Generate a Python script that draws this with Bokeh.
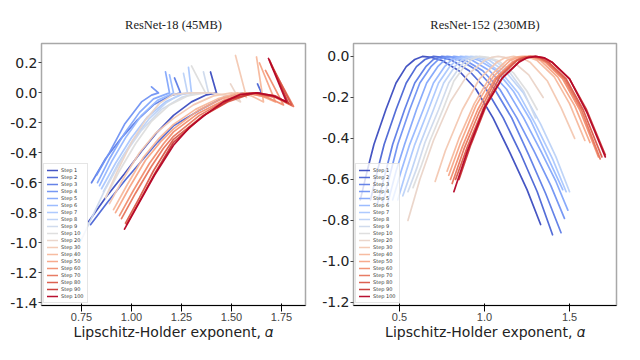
from bokeh.plotting import figure
from bokeh.layouts import row
from bokeh.models import FixedTicker, NumeralTickFormatter, Legend, LegendItem, Range1d, LinearAxis
from bokeh.embed import file_html
from bokeh.resources import INLINE

step_labels = ["Step 1", "Step 2", "Step 3", "Step 4", "Step 5", "Step 6", "Step 7",
               "Step 8", "Step 9", "Step 10", "Step 20", "Step 30", "Step 40",
               "Step 50", "Step 60", "Step 70", "Step 80", "Step 90", "Step 100"]
step_colors = ["#3b4cc0", "#4b65d5", "#5d7ce6", "#7092f3", "#83a6fb", "#97b8ff",
               "#aac7fe", "#bcd2f7", "#ced9ec", "#dddddd", "#ead4c8", "#f3c8b2",
               "#f7b89c", "#f7a586", "#f18e70", "#e7755c", "#da5948", "#c93936",
               "#b40426"]

# ---- ResNet-18 (alpha, f) points per step ----
r18_step1 = [(0.785, -0.86), (0.87, -0.70), (0.965, -0.54), (1.05, -0.39), (1.13, -0.26), (1.21, -0.15), (1.30, -0.06), (1.37, -0.015), (1.425, 0.0), (1.395, 0.14)]
r18_step2 = [(0.795, -0.88), (0.88, -0.73), (0.97, -0.58), (1.06, -0.44), (1.13, -0.33), (1.21, -0.22), (1.335, -0.12), (1.46, -0.03), (1.56, 0.0), (1.65, 0.0), (1.63, 0.06)]
r18_step3 = [(0.80, -0.60), (0.87, -0.44), (0.95, -0.30), (1.03, -0.18), (1.11, -0.08), (1.19, -0.02), (1.245, 0.0), (1.215, 0.10)]
r18_step4 = [(0.825, -0.55), (0.885, -0.41), (0.965, -0.21), (1.05, -0.06), (1.10, -0.015), (1.135, 0.0), (1.10, 0.04)]
r18_step5 = [(0.83, -0.60), (0.89, -0.44), (0.96, -0.28), (1.04, -0.13), (1.11, -0.04), (1.19, 0.0), (1.17, 0.14)]
r18_step6 = [(0.84, -0.62), (0.90, -0.46), (0.97, -0.30), (1.05, -0.15), (1.13, -0.05), (1.21, 0.0), (1.19, 0.12)]
r18_step7 = [(0.85, -0.64), (0.92, -0.47), (1.00, -0.30), (1.08, -0.16), (1.17, -0.06), (1.25, -0.01), (1.30, 0.0), (1.285, 0.17)]
r18_step8 = [(0.86, -0.66), (0.93, -0.48), (1.01, -0.31), (1.09, -0.17), (1.17, -0.07), (1.24, -0.01), (1.28, 0.0), (1.26, 0.13)]
r18_step9 = [(0.62, -1.34), (0.70, -1.12), (0.785, -0.88), (0.87, -0.64), (0.96, -0.42), (1.05, -0.25), (1.15, -0.11), (1.25, -0.03), (1.33, 0.0), (1.385, 0.0), (1.36, 0.14)]
r18_step10 = [(0.87, -0.70), (0.94, -0.52), (1.02, -0.34), (1.10, -0.19), (1.19, -0.08), (1.28, -0.02), (1.37, 0.0), (1.30, 0.18)]
r18_step20 = [(0.87, -0.70), (0.93, -0.52), (1.00, -0.33), (1.07, -0.18), (1.14, -0.07), (1.21, -0.01), (1.30, 0.0), (1.40, 0.0), (1.49, -0.02), (1.545, -0.06), (1.495, 0.06)]
r18_step30 = [(0.89, -0.74), (0.96, -0.57), (1.04, -0.40), (1.12, -0.27), (1.21, -0.17), (1.31, -0.08), (1.41, -0.02), (1.50, 0.0), (1.56, -0.01), (1.575, -0.03), (1.52, 0.25)]
r18_step40 = [(0.91, -0.78), (0.98, -0.61), (1.06, -0.43), (1.14, -0.30), (1.21, -0.21), (1.32, -0.11), (1.43, -0.04), (1.53, 0.0), (1.60, -0.02), (1.66, -0.06), (1.625, 0.24)]
r18_step50 = [(0.92, -0.80), (0.99, -0.63), (1.07, -0.45), (1.15, -0.32), (1.21, -0.24), (1.33, -0.12), (1.45, -0.04), (1.56, 0.0), (1.65, -0.02), (1.72, -0.06), (1.64, 0.20)]
r18_step60 = [(0.94, -0.82), (1.01, -0.65), (1.09, -0.47), (1.16, -0.34), (1.21, -0.26), (1.33, -0.14), (1.46, -0.05), (1.58, 0.0), (1.68, -0.03), (1.76, -0.08), (1.67, 0.15)]
r18_step70 = [(0.95, -0.84), (1.02, -0.67), (1.10, -0.49), (1.16, -0.37), (1.21, -0.29), (1.34, -0.15), (1.47, -0.05), (1.60, 0.0), (1.72, -0.03), (1.81, -0.09), (1.70, 0.18)]
r18_step80 = [(0.97, -0.87), (1.04, -0.70), (1.11, -0.52), (1.17, -0.39), (1.21, -0.31), (1.35, -0.16), (1.48, -0.06), (1.61, 0.0), (1.73, -0.03), (1.80, -0.08), (1.695, 0.20)]
r18_step90 = [(0.975, -0.88), (1.05, -0.70), (1.12, -0.53), (1.21, -0.33), (1.36, -0.15), (1.50, -0.04), (1.62, 0.0), (1.72, -0.02), (1.785, -0.07), (1.69, 0.22)]
r18_step100 = [(0.965, -0.91), (1.04, -0.73), (1.115, -0.55), (1.21, -0.35), (1.29, -0.23), (1.375, -0.14), (1.46, -0.06), (1.545, -0.01), (1.63, 0.0), (1.71, -0.02), (1.775, -0.06), (1.685, 0.23)]

# ---- ResNet-152 (alpha, f) points per step ----
r152_step1 = [(0.27, -0.70), (0.31, -0.56), (0.35, -0.43), (0.42, -0.26), (0.48, -0.13), (0.54, -0.05), (0.59, -0.015), (0.635, 0.0), (0.69, -0.005), (0.75, -0.02), (0.85, -0.07), (0.95, -0.16), (1.05, -0.30), (1.15, -0.47), (1.25, -0.65), (1.33, -0.82)]
r152_step2 = [(0.33, -0.70), (0.37, -0.56), (0.41, -0.43), (0.48, -0.26), (0.54, -0.13), (0.60, -0.05), (0.65, -0.015), (0.70, 0.0), (0.755, -0.005), (0.81, -0.02), (0.91, -0.07), (1.01, -0.16), (1.11, -0.30), (1.21, -0.47), (1.31, -0.66), (1.40, -0.87)]
r152_step3 = [(0.37, -0.72), (0.42, -0.56), (0.46, -0.43), (0.53, -0.26), (0.59, -0.13), (0.655, -0.05), (0.70, -0.015), (0.75, 0.0), (0.805, -0.005), (0.86, -0.02), (0.96, -0.07), (1.06, -0.16), (1.16, -0.30), (1.26, -0.48), (1.36, -0.67), (1.45, -0.86)]
r152_step4 = [(0.40, -0.72), (0.45, -0.56), (0.49, -0.43), (0.56, -0.26), (0.62, -0.13), (0.685, -0.05), (0.73, -0.015), (0.78, 0.0), (0.835, -0.005), (0.89, -0.02), (0.99, -0.07), (1.09, -0.16), (1.19, -0.30), (1.29, -0.46), (1.39, -0.63), (1.47, -0.79)]
r152_step5 = [(0.43, -0.72), (0.48, -0.56), (0.53, -0.43), (0.60, -0.26), (0.66, -0.13), (0.725, -0.05), (0.77, -0.015), (0.82, 0.0), (0.875, -0.005), (0.93, -0.02), (1.03, -0.07), (1.13, -0.16), (1.23, -0.30), (1.33, -0.46), (1.42, -0.61), (1.49, -0.75)]
r152_step6 = [(0.46, -0.70), (0.51, -0.56), (0.56, -0.43), (0.64, -0.26), (0.70, -0.13), (0.765, -0.05), (0.81, -0.015), (0.86, 0.0), (0.915, -0.005), (0.97, -0.02), (1.07, -0.07), (1.17, -0.17), (1.27, -0.31), (1.36, -0.47), (1.46, -0.65)]
r152_step7 = [(0.49, -0.70), (0.54, -0.56), (0.59, -0.43), (0.67, -0.26), (0.73, -0.13), (0.795, -0.05), (0.84, -0.015), (0.89, 0.0), (0.945, -0.005), (1.00, -0.02), (1.10, -0.08), (1.20, -0.18), (1.30, -0.33), (1.40, -0.50), (1.48, -0.66)]
r152_step8 = [(0.52, -0.68), (0.57, -0.56), (0.62, -0.43), (0.70, -0.26), (0.76, -0.13), (0.825, -0.05), (0.87, -0.015), (0.92, 0.0), (0.975, -0.005), (1.03, -0.02), (1.13, -0.08), (1.23, -0.18), (1.33, -0.33), (1.42, -0.49), (1.50, -0.66)]
r152_step9 = [(0.55, -0.66), (0.60, -0.55), (0.65, -0.42), (0.73, -0.26), (0.79, -0.13), (0.855, -0.05), (0.90, -0.015), (0.95, 0.0), (1.005, -0.005), (1.06, -0.02), (1.15, -0.08), (1.23, -0.17), (1.30, -0.30)]
r152_step10 = [(0.58, -0.64), (0.63, -0.53), (0.68, -0.41), (0.76, -0.25), (0.82, -0.12), (0.88, -0.05), (0.925, -0.015), (0.97, 0.0), (1.025, -0.005), (1.08, -0.02), (1.17, -0.08), (1.25, -0.17), (1.31, -0.26)]
r152_step20 = [(0.55, -0.80), (0.62, -0.60), (0.70, -0.41), (0.80, -0.22), (0.90, -0.09), (1.00, -0.02), (1.04, -0.005), (1.08, 0.0), (1.12, -0.005), (1.16, -0.02), (1.26, -0.09), (1.345, -0.20)]
r152_step30 = [(0.71, -0.61), (0.77, -0.46), (0.87, -0.26), (0.97, -0.11), (1.07, -0.03), (1.12, -0.007), (1.17, 0.0), (1.22, -0.007), (1.27, -0.03), (1.37, -0.12), (1.45, -0.25), (1.53, -0.40)]
r152_step40 = [(0.78, -0.56), (0.85, -0.40), (0.94, -0.23), (1.04, -0.09), (1.13, -0.02), (1.175, -0.005), (1.22, 0.0), (1.265, -0.005), (1.31, -0.02), (1.41, -0.10), (1.50, -0.23), (1.59, -0.41)]
r152_step50 = [(0.79, -0.58), (0.86, -0.42), (0.95, -0.24), (1.05, -0.10), (1.15, -0.02), (1.195, -0.005), (1.24, 0.0), (1.285, -0.005), (1.33, -0.02), (1.43, -0.10), (1.53, -0.24), (1.62, -0.42)]
r152_step60 = [(0.80, -0.60), (0.87, -0.44), (0.96, -0.26), (1.06, -0.11), (1.16, -0.03), (1.21, -0.007), (1.26, 0.0), (1.31, -0.007), (1.36, -0.03), (1.46, -0.11), (1.56, -0.26), (1.67, -0.49)]
r152_step70 = [(0.81, -0.62), (0.88, -0.45), (0.97, -0.27), (1.07, -0.11), (1.17, -0.03), (1.22, -0.007), (1.27, 0.0), (1.32, -0.007), (1.37, -0.03), (1.47, -0.11), (1.57, -0.26), (1.68, -0.50)]
r152_step80 = [(0.83, -0.60), (0.90, -0.44), (0.99, -0.26), (1.09, -0.10), (1.19, -0.02), (1.235, -0.005), (1.28, 0.0), (1.33, -0.007), (1.38, -0.03), (1.48, -0.11), (1.58, -0.26), (1.69, -0.49)]
r152_step90 = [(0.85, -0.60), (0.92, -0.43), (1.01, -0.24), (1.11, -0.10), (1.21, -0.02), (1.255, -0.005), (1.30, 0.0), (1.35, -0.007), (1.40, -0.03), (1.50, -0.11), (1.60, -0.26), (1.71, -0.48)]
r152_step100 = [(0.82, -0.66), (0.90, -0.46), (1.00, -0.25), (1.10, -0.11), (1.20, -0.03), (1.25, -0.007), (1.30, 0.0), (1.35, -0.007), (1.40, -0.03), (1.50, -0.11), (1.60, -0.27), (1.71, -0.49)]

r18_curves = [r18_step1, r18_step2, r18_step3, r18_step4, r18_step5, r18_step6, r18_step7,
              r18_step8, r18_step9, r18_step10, r18_step20, r18_step30, r18_step40,
              r18_step50, r18_step60, r18_step70, r18_step80, r18_step90, r18_step100]
r152_curves = [r152_step1, r152_step2, r152_step3, r152_step4, r152_step5, r152_step6,
               r152_step7, r152_step8, r152_step9, r152_step10, r152_step20, r152_step30,
               r152_step40, r152_step50, r152_step60, r152_step70, r152_step80,
               r152_step90, r152_step100]

r18_xticks = [0.75, 1.0, 1.25, 1.5, 1.75]
r18_yticks = [0.2, 0.0, -0.2, -0.4, -0.6, -0.8, -1.0, -1.2, -1.4]
r152_xticks = [0.5, 1.0, 1.5]
r152_yticks = [0.0, -0.2, -0.4, -0.6, -0.8, -1.0, -1.2]

TICK_FONT = "DejaVu Sans"


def make_panel(title, curves, xr, yr, xticks, yticks, xfmt, fw, bl, br):
    p = figure(frame_width=fw, frame_height=262,
               x_range=Range1d(*xr), y_range=Range1d(*yr),
               output_backend="svg", toolbar_location=None,
               min_border_left=bl, min_border_right=br,
               min_border_top=43, min_border_bottom=38)
    # title drawn as the label of a bare axis above the frame
    tax = LinearAxis(ticker=FixedTicker(ticks=[]), axis_label=title,
                     axis_line_color=None, major_tick_line_color=None,
                     minor_tick_line_color=None, major_tick_out=0, major_tick_in=0,
                     major_label_text_font_size="0px", major_label_standoff=0,
                     axis_label_standoff=12,
                     axis_label_text_font="Liberation Serif",
                     axis_label_text_font_size="12.5px",
                     axis_label_text_font_style="normal",
                     axis_label_text_color="#222222")
    p.add_layout(tax, "above")
    p.grid.visible = False
    p.outline_line_color = "#a8a8a8"
    p.outline_line_width = 1.5
    p.background_fill_color = "white"
    p.border_fill_color = "white"

    for ax in (p.xaxis[0], p.yaxis[0]):
        ax.axis_line_color = None
        ax.major_tick_line_color = "#444444"
        ax.major_tick_out = 3
        ax.major_tick_in = 0
        ax.minor_tick_line_color = None
        ax.major_label_text_font = TICK_FONT
        ax.major_label_text_font_size = "14px"
        ax.major_label_text_color = "#222222"
    bottom = p.below[0]
    bottom.major_label_standoff = 1
    p.yaxis.major_label_standoff = 1
    bottom.ticker = FixedTicker(ticks=xticks)
    p.yaxis.ticker = FixedTicker(ticks=yticks)
    bottom.formatter = NumeralTickFormatter(format=xfmt)
    p.yaxis.formatter = NumeralTickFormatter(format="0.0")
    bottom.axis_label = "Lipschitz-Holder exponent, \U0001D6FC"
    bottom.axis_label_text_font = TICK_FONT
    bottom.axis_label_text_font_size = "14px"
    bottom.axis_label_text_font_style = "normal"
    bottom.axis_label_text_color = "#222222"
    bottom.axis_label_standoff = 0

    items = []
    for label, color, pts in zip(step_labels, step_colors, curves):
        xs = [a for a, f in pts]
        ys = [f for a, f in pts]
        r = p.line(xs, ys, line_color=color, line_width=1.7, line_alpha=0.95,
                   line_join="round", line_cap="round")
        items.append(LegendItem(label=label, renderers=[r]))
    legend = Legend(items=items, location="bottom_left",
                    label_text_font=TICK_FONT, label_text_font_size="5px",
                    label_text_color="#333333",
                    label_height=6, glyph_height=6, glyph_width=11,
                    label_standoff=3, spacing=1, padding=3, margin=2,
                    border_line_color="#cccccc", border_line_width=1,
                    background_fill_color="white", background_fill_alpha=0.8)
    p.add_layout(legend)
    return p


p1 = make_panel("ResNet-18 (45MB)", r18_curves, (0.55, 1.87), (-1.42, 0.33),
                r18_xticks, r18_yticks, "0.00", 264, 41, 9)
p2 = make_panel("ResNet-152 (230MB)", r152_curves, (0.23, 1.776), (-1.215, 0.063),
                r152_xticks, r152_yticks, "0.0", 263, 39, 8)

layout = row(p1, p2)
open("out.html", "w").write(file_html(layout, INLINE))
